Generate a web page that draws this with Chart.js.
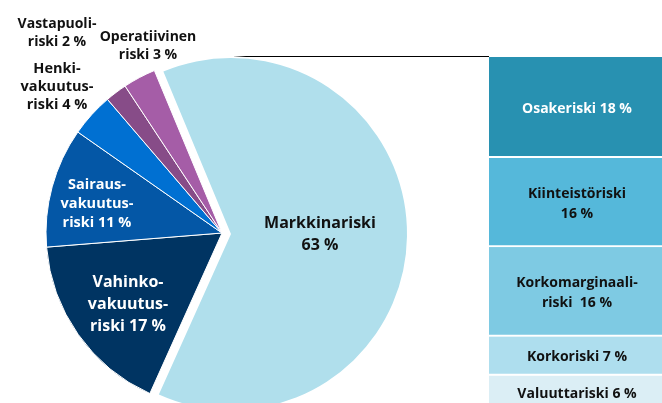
<!DOCTYPE html>
<html>
<head>
<meta charset="utf-8">
<script src="https://cdn.jsdelivr.net/npm/chart.js@4/dist/chart.umd.min.js"></script>
<style>
  html, body { margin: 0; padding: 0; background: #fff; }
  body { width: 662px; height: 403px; overflow: hidden; position: relative; }
  .box { position: absolute; }
  #pieA { left: 9px; top: 1px; width: 444px; height: 466px; }
  #pieB { left: 0; top: 0; width: 444px; height: 466px; }
  #bar { left: 489px; top: 57px; width: 180px; height: 352px; }
  #line { position: absolute; left: 234px; top: 56px; width: 255px; height: 1px;
          background: linear-gradient(to right, #ddd, #000 12px, #000); }
</style>
</head>
<body>
<div class="box" id="pieA"><canvas id="cA"></canvas></div>
<div class="box" id="pieB"><canvas id="cB"></canvas></div>
<div id="line"></div>
<div class="box" id="bar"><canvas id="cBar"></canvas></div>
<script>
// pie: total risk split
const riskNames = ['Markkinariski', 'Vahinkovakuutusriski', 'Sairausvakuutusriski', 'Henkivakuutusriski', 'Vastapuoliriski', 'Operatiivinen riski'];
const riskValues = [63, 17, 11, 4, 2, 3];
const riskColors = ['#b0dfec', '#003462', '#0457a6', '#0070d2', '#874c88', '#a55da7'];
const riskLabels = [
  ['Markkinariski', '63 %'],
  ['Vahinko-', 'vakuutus-', 'riski 17 %'],
  ['Sairaus-', 'vakuutus-', 'riski 11 %'],
  ['Henki-', 'vakuutus-', 'riski 4 %'],
  ['Vastapuoli-', 'riski 2 %'],
  ['Operatiivinen', 'riski 3 %']
];

// bar: market risk split (top to bottom)
const marketNames = ['Osakeriski', 'Kiinteistöriski', 'Korkomarginaaliriski', 'Korkoriski', 'Valuuttariski'];
const marketValues = [18, 16, 16, 7, 6];
const marketColors = ['#2891b1', '#55b8da', '#7ecae3', '#aedeee', '#dbeef5'];
const marketLabels = [
  ['Osakeriski 18 %'],
  ['Kiinteistöriski', '16 %'],
  ['Korkomarginaali-', 'riski  16 %'],
  ['Korkoriski 7 %'],
  ['Valuuttariski 6 %']
];

const FONT = "'Open Sans', sans-serif";

// where the pie labels go: [x, first baseline, line height, font px, colour]
const pieLabelPos = [
  [320, 228, 22, 16, '#111'],
  [128, 287, 22, 16, '#fff'],
  [97, 189, 19, 14.5, '#fff'],
  [57, 73, 18, 14.5, '#111'],
  [57, 28, 17.5, 14, '#111'],
  [148, 41, 17.5, 14, '#111']
];

function drawLines(ctx, lines, x, y, lh, size, color) {
  ctx.save();
  ctx.font = 'bold ' + size + 'px ' + FONT;
  ctx.fillStyle = color;
  ctx.textAlign = 'center';
  ctx.textBaseline = 'alphabetic';
  lines.forEach((t, i) => ctx.fillText(t, x, y + i * lh));
  ctx.restore();
}

const pieLabelPlugin = {
  id: 'pieLabels',
  afterDatasetsDraw(chart) {
    const ctx = chart.ctx;
    riskLabels.forEach((lines, i) => {
      const p = pieLabelPos[i];
      drawLines(ctx, lines, p[0], p[1], p[2], p[3], p[4]);
    });
  }
};

function pieConfig(showIdx, plugins) {
  return {
    type: 'pie',
    data: {
      labels: riskNames,
      datasets: [{
        data: riskValues,
        backgroundColor: riskColors.map((c, i) => showIdx(i) ? c : 'rgba(0,0,0,0)'),
        borderColor: '#fff',
        borderWidth: riskValues.map((v, i) => showIdx(i) && i > 0 ? 1 : 0),
        radius: 176,
        clip: false
      }]
    },
    options: {
      responsive: true,
      maintainAspectRatio: false,
      animation: false,
      rotation: -22.6,
      layout: { padding: 0 },
      plugins: { legend: { display: false }, tooltip: { enabled: false } },
      events: []
    },
    plugins: plugins
  };
}

// exploded market risk slice on its own canvas, the rest on top
new Chart('cA', pieConfig(i => i === 0, []));
new Chart('cB', pieConfig(i => i !== 0, [pieLabelPlugin]));

const barLabelPlugin = {
  id: 'barLabels',
  afterDatasetsDraw(chart) {
    const ctx = chart.ctx;
    chart.data.datasets.forEach((ds, i) => {
      const el = chart.getDatasetMeta(i).data[0];
      const cy = (el.y + el.base) / 2;
      const lines = marketLabels[i];
      const lh = 20;
      const y0 = cy - (lines.length - 1) * lh / 2 + 5.5;
      drawLines(ctx, lines, 88, y0, lh, 14, i === 0 ? '#fff' : '#111');
    });
  }
};

new Chart('cBar', {
  type: 'bar',
  data: {
    labels: ['Markkinariski'],
    datasets: marketNames.map((n, i) => ({
      label: n,
      data: [marketValues[i]],
      backgroundColor: marketColors[i],
      borderColor: '#fff',
      borderWidth: { top: 0, bottom: 2, left: 0, right: 0 },
      borderSkipped: false,
      barPercentage: 1,
      categoryPercentage: 1
    }))
  },
  options: {
    responsive: true,
    maintainAspectRatio: false,
    animation: false,
    layout: { padding: 0 },
    scales: {
      x: { stacked: true, display: false },
      y: { stacked: true, display: false, reverse: true, min: 0, max: 63 }
    },
    plugins: { legend: { display: false }, tooltip: { enabled: false } },
    events: []
  },
  plugins: [barLabelPlugin]
});
</script>
</body>
</html>
